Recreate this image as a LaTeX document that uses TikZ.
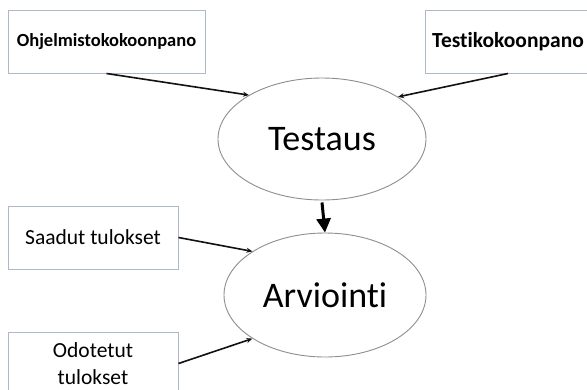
\documentclass[tikz,border=0pt]{standalone}
\usepackage{fontspec}
\setmainfont{Carlito}[Ligatures=NoCommon]
\usepackage{tikz}
\usetikzlibrary{positioning, arrows.meta, shapes.geometric}
\definecolor{boxEdge}{HTML}{AEB8CB}
\definecolor{ovalEdge}{HTML}{8E8E8E}
\definecolor{inkBlack}{HTML}{111111}
\tikzset{
  box/.style    = {draw=boxEdge, fill=white, line width=1pt, align=center,
                   minimum width=170pt, minimum height=63pt, inner sep=2pt,
                   font=\fontsize{21.5}{27}\selectfont},
  boldbox/.style= {box, font=\fontsize{18.5}{22}\selectfont\bfseries},
  oval/.style   = {ellipse, draw=ovalEdge, fill=white, line width=0.9pt,
                   inner sep=0pt, font=\fontsize{36}{40}\selectfont},
  fl/.style     = {-{Stealth[length=6pt, width=5pt]}, draw=inkBlack, line width=1.6pt},
  flbig/.style  = {-{Triangle[length=14pt, width=14pt]}, draw=black, line width=3pt}
}
\begin{document}
\begin{tikzpicture}[x=1pt, y=-1pt]
  \useasboundingbox (0,0) rectangle (587,389);

  \node[boldbox, minimum width=197pt] (ohj) at (106.5,41.5) {Ohjelmistokokoonpano};
  \node[boldbox, minimum width=166pt, font=\fontsize{21.5}{26}\selectfont\bfseries] (testi) at (508,41.5) {Testikokoonpano};

  \node[oval, minimum width=208pt, minimum height=122pt] (testaus) at (322,139) {Testaus};
  \node[oval, minimum width=202pt, minimum height=124pt] (arv) at (325,295) {Arviointi};

  \node[box] (saadut) at (93,237.5) {Saadut tulokset};
  \node[box, minimum height=63pt] (odot) at (93,363.5) {Odotetut\\tulokset};

  \draw[fl] (ohj.south) -- (testaus.149);
  \draw[fl] (testi.south) -- (testaus.29);
  \draw[fl] (saadut.east) -- (arv.149);
  \draw[fl] (odot.east) -- (arv.211);
  \draw[flbig] ([yshift=-2pt]testaus.south) -- (arv.north);
\end{tikzpicture}
\end{document}
